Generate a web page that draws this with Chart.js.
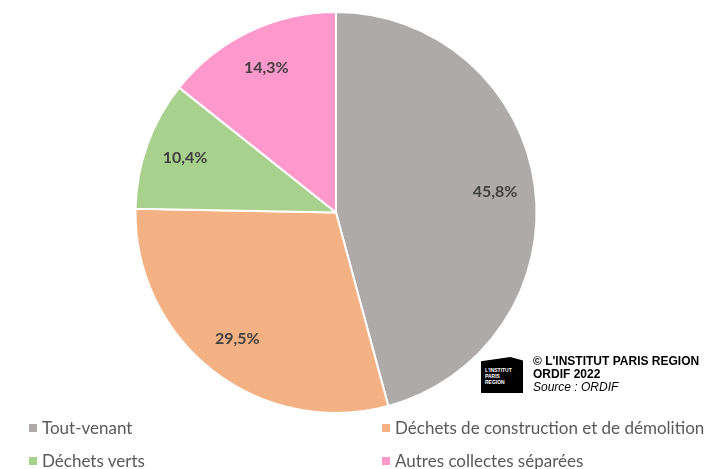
<!DOCTYPE html>
<html lang="fr">
<head>
<meta charset="utf-8">
<script src="https://cdn.jsdelivr.net/npm/chart.js@4"></script>
<style>
    html, body { margin: 0; padding: 0; background: #fff; }
    #wrap { position: relative; width: 710px; height: 469px; overflow: hidden; }
    #pie { position: absolute; left: 0; top: 0; }
    .legend-item { position: absolute; font-family: Lato, "Open Sans", sans-serif; font-size: 17px; color: #595959; white-space: nowrap; }
    .legend-item i { display: inline-block; width: 8px; height: 8px; margin-right: 5px; vertical-align: 2px; }
    #credit { position: absolute; left: 481px; top: 355px; }
    #logo { position: absolute; left: 0; top: 2px; width: 42px; height: 36px; background: #000;
        clip-path: polygon(0 12%, 70% 0, 100% 10%, 100% 100%, 0 100%);
        color: #fff; font: bold 5px Arial, sans-serif; line-height: 6px; padding: 10px 0 0 4px; box-sizing: border-box; }
    #creditText { position: absolute; left: 52px; top: 0; font: bold 12px Arial, "Liberation Sans", sans-serif; color: #000; line-height: 13px; white-space: nowrap; }
    #creditText em { font-weight: normal; }
</style>
</head>
<body>
<div id="wrap">
    <canvas id="pie" width="710" height="469"></canvas>
    <div id="legend"></div>
    <div id="credit">
        <div id="logo">L'INSTITUT<br>PARIS<br>REGION</div>
        <div id="creditText">© L'INSTITUT PARIS REGION<br>ORDIF 2022<br><em>Source : ORDIF</em></div>
    </div>
</div>
<script>
const categories = ['Tout-venant', 'Déchets de construction et de démolition', 'Déchets verts', 'Autres collectes séparées'];
const shares = [45.8, 29.5, 10.4, 14.3];
const colors = ['#AEAAAA', '#F4B183', '#A9D18E', '#FF99CC'];

// legend laid out in two columns under the pie
const legendSpots = [[29, 417], [382, 417], [29, 450], [382, 450]];
const legend = document.getElementById('legend');
categories.forEach((name, i) => {
    const item = document.createElement('div');
    item.className = 'legend-item';
    item.style.left = legendSpots[i][0] + 'px';
    item.style.top = legendSpots[i][1] + 'px';
    item.innerHTML = '<i style="background:' + colors[i] + '"></i>' + name;
    legend.appendChild(item);
});

// percentage labels inside each slice
const sliceLabels = {
    id: 'sliceLabels',
    afterDatasetsDraw(chart) {
        const ctx = chart.ctx;
        const meta = chart.getDatasetMeta(0);
        ctx.save();
        ctx.font = 'bold 16px Lato, "Open Sans", sans-serif';
        ctx.fillStyle = '#404040';
        ctx.textAlign = 'center';
        ctx.textBaseline = 'middle';
        meta.data.forEach((arc, i) => {
            const p = arc.getProps(['x', 'y', 'startAngle', 'endAngle', 'outerRadius']);
            const mid = (p.startAngle + p.endAngle) / 2;
            const r = p.outerRadius * 0.8;
            const txt = shares[i].toFixed(1).replace('.', ',') + '%';
            ctx.fillText(txt, p.x + Math.cos(mid) * r, p.y + Math.sin(mid) * r);
        });
        ctx.restore();
    }
};

new Chart(document.getElementById('pie'), {
    type: 'pie',
    data: {
        labels: categories,
        datasets: [{
            data: shares,
            backgroundColor: colors,
            borderColor: '#ffffff',
            borderWidth: 2
        }]
    },
    options: {
        responsive: false,
        animation: false,
        layout: { padding: { left: 0, right: 38, top: 11, bottom: 55 } },
        plugins: { legend: { display: false }, tooltip: { enabled: false } }
    },
    plugins: [sliceLabels]
});
</script>
</body>
</html>
